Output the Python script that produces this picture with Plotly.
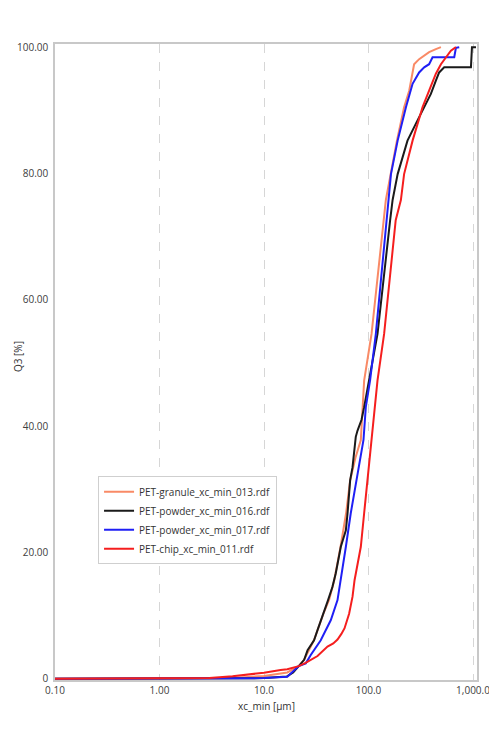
import plotly.graph_objects as go

# ---- data ----
names = ["PET-granule_xc_min_013.rdf", "PET-powder_xc_min_016.rdf",
         "PET-powder_xc_min_017.rdf", "PET-chip_xc_min_011.rdf"]
colors = ["#F98A66", "#1A1A1A", "#1F1FF5", "#F51E1E"]

x_granule = [0.1, 2, 5, 10, 16.7, 21.5, 24.2, 30.1, 37, 42, 47, 54, 61, 66.7, 75, 84.4, 87.7,
             90.8, 106.9, 146.5, 187, 219, 245, 273, 305, 341, 380, 441, 493]
q_granule = [0, 0.02, 0.12, 0.45, 1.0, 2.0, 3.0, 6.1, 10.3, 12.5, 15.6, 20.9, 26.2, 31.4, 35.0, 37.8, 42.0,
             47.2, 54.6, 75.8, 85.2, 90.5, 93.1, 97.3, 98.1, 98.7, 99.2, 99.7, 100]

x_p016 = [0.1, 3, 10, 16.5, 19, 21.5, 24.2, 26.1, 30.1, 32.5, 37.6, 41, 45.2, 48.6, 54.3, 60.7, 63,
          66.7, 70.3, 75.5, 78.5, 85.7, 90.8, 121.9, 161, 170, 190, 236, 284, 341, 395, 441,
          474, 530, 955, 977, 1067]
q_p016 = [0, 0.02, 0.1, 0.35, 1.0, 2.0, 3.0, 4.5, 6.1, 7.7, 10.9, 12.45, 14.55, 16.7, 20.9, 23.5, 26.2,
          31.4, 33.5, 38.3, 39.3, 41.0, 43.0, 54.6, 72.6, 75.8, 79.9, 85.2, 87.9, 90.5, 92.6, 94.7,
          96.0, 96.8, 96.8, 100, 100]

x_p017 = [0.1, 5, 10, 16.7, 21.5, 25.1, 28, 34.9, 43.6, 50.5, 54.3, 60.7, 67.6, 78.5, 89.5, 94.2,
          103.5, 117.5, 148.6, 164, 190, 228, 264, 305, 341, 380, 410, 661, 686, 738]
q_p017 = [0, 0.02, 0.1, 0.32, 2.0, 2.44, 3.75, 6.1, 9.3, 12.45, 15.6, 20.9, 26.2, 32.5, 37.8, 43.0,
          47.25, 54.6, 72.6, 79.9, 85.2, 90.5, 94.2, 96.0, 96.8, 97.3, 98.4, 98.4, 99.9, 100]

x_chip = [0.1, 2, 3, 5, 8.7, 10, 14.4, 16.7, 21.5, 25, 32.5, 40.5, 46, 50.5, 55, 59, 65.2, 70.3,
          73.5, 84.4, 90.8, 105.2, 106.9, 113.2, 121.9, 141, 182, 204, 219, 264, 329, 380, 441,
          493, 571, 614, 686]
q_chip = [0, 0.02, 0.1, 0.4, 0.85, 0.95, 1.4, 1.5, 2.0, 2.5, 3.6, 5.1, 5.6, 6.2, 7.1, 8.0, 10.3, 13.0,
          15.6, 20.9, 26.2, 36.7, 37.8, 43.0, 47.25, 54.6, 72.6, 75.8, 79.9, 85.2, 90.5, 93.1, 95.8,
          97.3, 98.7, 99.45, 100]

x_tickvals = [0.1, 1, 10, 100, 1000]
x_ticktext = ["0.10", "1.00", "10.0", "100.0", "1,000.0"]
y_tickvals = [0, 20, 40, 60, 80, 100]
y_ticktext = ["0", "20.00", "40.00", "60.00", "80.00", "100.00"]

series = [(x_granule, q_granule), (x_p016, q_p016), (x_p017, q_p017), (x_chip, q_chip)]

FONT = "Segoe UI, Open Sans, Noto Sans, sans-serif"

fig = go.Figure()
for (xs, ys), nm, c in zip(series, names, colors):
    fig.add_trace(go.Scatter(x=xs, y=ys, mode="lines", name=nm,
                             line=dict(color=c, width=2)))

# page body adds an 8px offset; margins compensate so the plot area lands where the reference has it
fig.update_layout(
    width=497, height=730,
    margin=dict(l=47, r=28, t=35.5, b=58),
    paper_bgcolor="white", plot_bgcolor="white",
    font=dict(family=FONT, size=10, color="#404040"),
    showlegend=True,
    legend=dict(x=0.102, y=0.3205, xanchor="left", yanchor="top",
                bgcolor="white", bordercolor="#cfcfcf", borderwidth=1,
                font=dict(family=FONT, size=10, color="#333333"),
                itemwidth=30, tracegroupgap=0),
)
fig.update_xaxes(type="log", range=[-1, 3.038], automargin=False,
                 tickvals=x_tickvals, ticktext=x_ticktext,
                 showgrid=True, gridcolor="#d6d6d6", griddash="dash", gridwidth=1,
                 showline=True, linecolor="#c8c8c8", linewidth=1.5, mirror=True,
                 ticks="", zeroline=False,
                 tickfont=dict(family=FONT, size=10, color="#404040"))
fig.update_yaxes(range=[-0.2, 100.5], automargin=False,
                 tickvals=y_tickvals, ticktext=y_ticktext,
                 showgrid=False, zeroline=False,
                 showline=True, linecolor="#c8c8c8", linewidth=1.5, mirror=True,
                 ticks="", ticklabelstandoff=3,
                 tickfont=dict(family=FONT, size=10, color="#404040"))

fig.add_annotation(text="xc_min [µm]", xref="paper", yref="paper",
                   x=0.5, y=-26 / 636, yanchor="middle", showarrow=False,
                   font=dict(family=FONT, size=10, color="#333333"))
fig.add_annotation(text="Q3 [%]", xref="paper", yref="paper",
                   x=-46 / 422, y=0.5 + 5 / 636, xanchor="left", yanchor="middle",
                   textangle=-90, showarrow=False,
                   font=dict(family=FONT, size=10, color="#333333"))

fig.write_html("out.html")
